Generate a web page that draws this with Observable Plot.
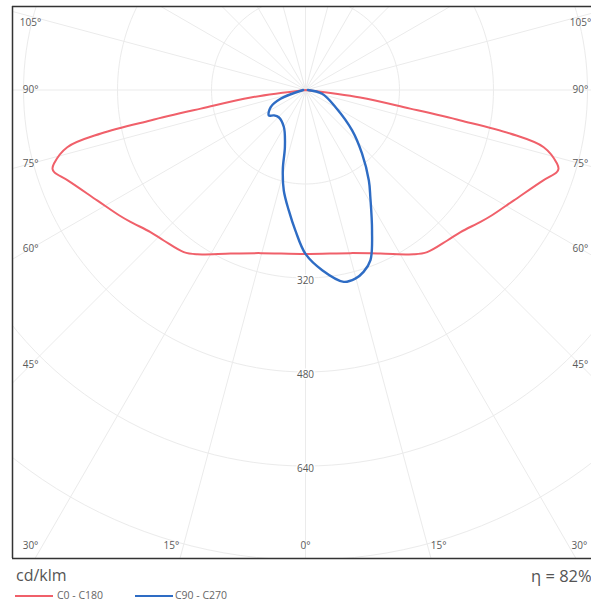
<!DOCTYPE html>
<html>
<head>
<meta charset="utf-8">
<script src="https://cdn.jsdelivr.net/npm/d3@7"></script>
<script src="https://cdn.jsdelivr.net/npm/@observablehq/plot@0.6"></script>
<style>
  html, body { margin: 0; padding: 0; background: #fff; }
  #wrap { position: relative; width: 591px; height: 602px; overflow: hidden; font-family: "Open Sans", "DejaVu Sans", sans-serif; }
  #chart { position: absolute; left: 0; top: 0; }
  .unit { position: absolute; left: 16px; top: 564px; font-size: 16px; color: #555; }
  .eta { position: absolute; left: 531px; top: 564px; font-size: 16.5px; color: #555; white-space: nowrap; }
  .sw { position: absolute; top: 595px; width: 38px; height: 2px; }
  .lt { position: absolute; top: 588px; font-size: 10.5px; color: #666; white-space: nowrap; }
</style>
</head>
<body>
<div id="wrap">
  <div id="chart"></div>
  <div class="unit">cd/klm</div>
  <div class="eta">η = 82%</div>
  <div class="sw" style="left:15px;background:#f0606a"></div>
  <div class="lt" style="left:57px">C0 - C180</div>
  <div class="sw" style="left:135px;background:#2e6cc4"></div>
  <div class="lt" style="left:175px">C90 - C270</div>
</div>
<script>
// ---- data (gamma in degrees from nadir, intensity in cd/klm) ----
const gammaC0C180 = [0, 15.4, 24.6, 33.4, 36.9, 43.3, 47.5, 53, 56, 62, 69.2, 71.9, 72.7, 73.7, 76.5, 78, 78.9, 79.9, 82.2, 90];
const intensityC0C180 = [279, 288, 306, 335, 345, 352, 358, 373, 382, 401, 433, 450, 451, 446, 417, 356, 269, 181, 94, 0];

const gammaC270 = [0, 4.1, 7.9, 12.2, 16, 19.9, 30.3, 44.5, 51.2, 55.2, 63.8, 70.6, 90];
const intensityC270 = [279, 240, 207, 175, 140, 103, 73, 65, 69, 76, 66, 45, 4];

const gammaC90 = [0, 5.3, 11.3, 14.8, 17.7, 20.9, 25.4, 31.2, 35, 41.6, 49.1, 60.2, 77.2, 90];
const intensityC90 = [279, 308, 333, 332, 325, 310, 264, 213, 188, 145, 105, 59, 29, 4];

const ringValues = [160, 320, 480, 640, 800, 960, 1120];
const ringLabels = [320, 480, 640];
const sideAngleLabels = [105, 90, 75, 60, 45];
const bottomAngleLabels = [30, 15, 0, 15, 30];
const bottomAngleSigns = [-1, -1, 0, 1, 1];

// ---- layout ----
const W = 591, H = 560;
const mL = 12, mT = 6, mB = 2, mR = 0;
const ox = 305, oy = 89.5, k = 0.5875; // px origin, px per cd/klm
const xmin = -(ox - mL) / k, xmax = (W - mR - ox) / k;
const ymin = -(oy - mT) / k, ymax = (H - mB - oy) / k;

const rad = d => d * Math.PI / 180;
function loop(gL, iL, gR, iR, name) {
  const pts = [];
  for (let i = gL.length - 1; i >= 0; i--) pts.push({x: -iL[i] * Math.sin(rad(gL[i])), y: iL[i] * Math.cos(rad(gL[i])), s: name});
  for (let i = 1; i < gR.length; i++) pts.push({x: iR[i] * Math.sin(rad(gR[i])), y: iR[i] * Math.cos(rad(gR[i])), s: name});
  return pts;
}
const red = loop(gammaC0C180, intensityC0C180, gammaC0C180, intensityC0C180, "C0 - C180");
const blue = loop(gammaC270, intensityC270, gammaC90, intensityC90, "C90 - C270");

const rings = ringValues.flatMap(r => d3.range(0, 361, 2).map(a => ({r, x: r * Math.sin(rad(a)), y: r * Math.cos(rad(a))})));
const spokes = d3.range(-180, 180, 15).map(a => ({x2: 1600 * Math.sin(rad(a)), y2: 1600 * Math.cos(rad(a))}));

const labelInset = 468;
const sideLabels = sideAngleLabels.flatMap(a => [-1, 1].map(s => ({
  t: a + "°", x: s * labelInset, y: Math.max(labelInset / Math.tan(rad(a)), ymin + 27)
})));
const yBottom = (545 - oy) / k;
const bottomLabels = bottomAngleLabels.map((a, i) => ({
  t: a + "°", s: bottomAngleSigns[i], x: bottomAngleSigns[i] * yBottom * Math.tan(rad(a)), y: yBottom
}));

const textStyle = {fontSize: 10, fill: "#5a5a5a", fontFamily: "Open Sans, DejaVu Sans, sans-serif"};

const chart = Plot.plot({
  width: W, height: H,
  marginLeft: mL, marginRight: mR, marginTop: mT, marginBottom: mB,
  x: {domain: [xmin, xmax], axis: null},
  y: {domain: [ymin, ymax], reverse: true, axis: null},
  style: {background: "#fff"},
  marks: [
    Plot.link(spokes, {x1: 0, y1: 0, x2: "x2", y2: "y2", stroke: "#ebebeb", strokeWidth: 1, clip: true}),
    Plot.line(rings, {x: "x", y: "y", z: "r", stroke: "#ebebeb", strokeWidth: 1, clip: true}),
    Plot.text(ringLabels, {x: 0, y: d => d, text: d => String(d), dy: 3, ...textStyle, stroke: "#fff", strokeWidth: 3}),
    Plot.text(sideLabels, {x: "x", y: "y", text: "t", ...textStyle}),
    Plot.text(bottomLabels.filter(d => d.s < 0), {x: "x", y: "y", text: "t", dx: -12, ...textStyle}),
    Plot.text(bottomLabels.filter(d => d.s === 0), {x: "x", y: "y", text: "t", ...textStyle}),
    Plot.text(bottomLabels.filter(d => d.s > 0), {x: "x", y: "y", text: "t", dx: 11, ...textStyle}),
    Plot.line(red, {x: "x", y: "y", stroke: "#f0606a", strokeWidth: 2, curve: "catmull-rom"}),
    Plot.line(blue, {x: "x", y: "y", stroke: "#2e6cc4", strokeWidth: 2.4, curve: "catmull-rom"}),
    Plot.ruleX([xmin], {stroke: "#333", strokeWidth: 1.5}),
    Plot.ruleY([ymin, ymax], {stroke: "#333", strokeWidth: 1.5})
  ]
});
document.getElementById("chart").appendChild(chart);
</script>
</body>
</html>
